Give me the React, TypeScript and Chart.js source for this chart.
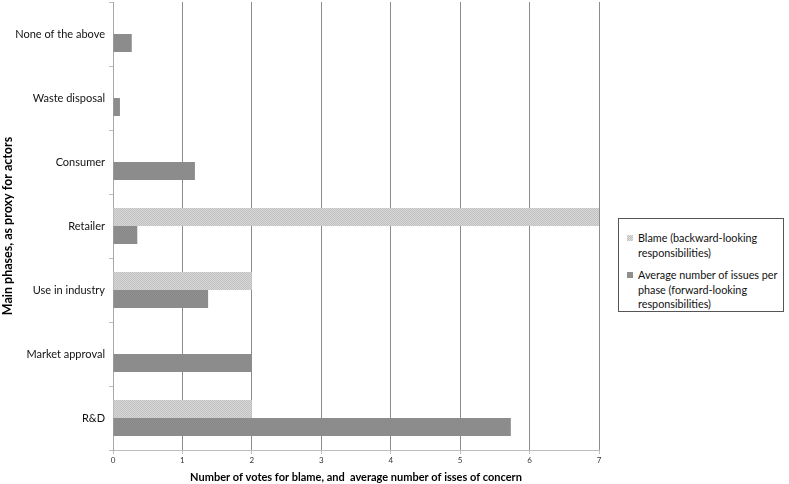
import React, { useEffect, useRef } from "react";
import { Chart, registerables } from "chart.js";

Chart.register(...registerables);

const categories = [
  "None of the above",
  "Waste disposal",
  "Consumer",
  "Retailer",
  "Use in industry",
  "Market approval",
  "R&D",
];
const blameValues = [0, 0, 0, 7, 2, 0, 2];
const averageIssues = [0.27, 0.1, 1.18, 0.35, 1.37, 2, 5.73];
const xTicks = [0, 1, 2, 3, 4, 5, 6, 7];
const blameLabel = "Blame (backward-looking responsibilities)";
const averageLabel = "Average number of issues per phase (forward-looking responsibilities)";
const blameLegendLines = ["Blame (backward-looking", "responsibilities)"];
const averageLegendLines = ["Average number of issues per", "phase (forward-looking", "responsibilities)"];
const xTitle = "Number of votes for blame, and  average number of isses of concern";
const yTitle = "Main phases, as proxy for actors";

const FONT = "Lato, 'Open Sans', sans-serif";

function makePattern(c1: string, c2: string) {
  const cv = document.createElement("canvas");
  cv.width = 2;
  cv.height = 2;
  const ctx = cv.getContext("2d")!;
  ctx.fillStyle = c1;
  ctx.fillRect(0, 0, 2, 2);
  ctx.fillStyle = c2;
  ctx.fillRect(0, 0, 1, 1);
  ctx.fillRect(1, 1, 1, 1);
  const main = document.createElement("canvas").getContext("2d")!;
  return main.createPattern(cv, "repeat") as CanvasPattern;
}

export default function App() {
  const ref = useRef<HTMLCanvasElement>(null);

  useEffect(() => {
    document.body.style.margin = "0";
    const blamePattern = makePattern("#d6d6d6", "#c2c2c2");
    const avgPattern = makePattern("#8e8e8e", "#8a8a8a");
    const chart = new Chart(ref.current!, {
      type: "bar",
      data: {
        labels: categories,
        datasets: [
          {
            label: blameLabel,
            data: blameValues,
            backgroundColor: blamePattern,
            borderWidth: 0,
            categoryPercentage: 0.5625,
            barPercentage: 1,
          },
          {
            label: averageLabel,
            data: averageIssues,
            backgroundColor: avgPattern,
            borderWidth: 0,
            categoryPercentage: 0.5625,
            barPercentage: 1,
          },
        ],
      },
      options: {
        indexAxis: "y",
        animation: false,
        responsive: false,
        maintainAspectRatio: false,
        layout: { padding: { left: 0, right: 190, top: 2, bottom: 0 } },
        plugins: {
          legend: { display: false },
          tooltip: { enabled: false },
        },
        scales: {
          x: {
            min: 0,
            max: 7,
            afterBuildTicks: (scale: any) => {
              scale.ticks = xTicks.map((v) => ({ value: v }));
            },
            afterFit: (scale: any) => {
              scale.height = 34;
            },
            grid: {
              color: "#8c8c8c",
              lineWidth: 1,
              drawTicks: true,
              tickLength: 4,
              tickColor: "#bdbdbd",
            },
            border: { display: true, color: "#bdbdbd", width: 1 },
            ticks: {
              color: "#333",
              font: { family: FONT, size: 8 },
              padding: 2,
              maxRotation: 0,
            },
            title: {
              display: true,
              text: xTitle,
              color: "#000",
              font: { family: FONT, size: 11, weight: "bold" },
              padding: { top: 4, bottom: 0 },
            },
          },
          y: {
            offset: true,
            afterFit: (scale: any) => {
              scale.width = 113;
              scale.paddingTop = 0;
              scale.paddingBottom = 0;
            },
            grid: {
              offset: true,
              drawOnChartArea: false,
              drawTicks: true,
              tickLength: 4,
              color: "#bdbdbd",
            },
            border: { display: true, color: "#a8a8a8", width: 1 },
            ticks: {
              color: "#111",
              font: { family: FONT, size: 11 },
              padding: 4,
            },
            title: {
              display: true,
              text: yTitle,
              color: "#000",
              font: { family: FONT, size: 12.5, weight: "bold" },
              padding: { top: 0, bottom: 0 },
            },
          },
        },
      },
    });
    return () => chart.destroy();
  }, []);

  const itemStyle: React.CSSProperties = {
    display: "flex",
    alignItems: "flex-start",
    fontFamily: FONT,
    fontSize: 10.8,
    lineHeight: "14.5px",
    color: "#111",
    whiteSpace: "nowrap",
  };
  const markerBase: React.CSSProperties = {
    width: 6,
    height: 6,
    marginTop: 4,
    marginRight: 5,
    flex: "0 0 auto",
  };

  const renderLines = (lines: string[]) =>
    lines.map((l, i) => (
      <React.Fragment key={i}>
        {l}
        {i < lines.length - 1 ? <br /> : null}
      </React.Fragment>
    ));

  return (
    <div style={{ position: "relative", width: 789, height: 484 }}>
      <canvas ref={ref} width={789} height={484} style={{ display: "block" }} />
      <div
        style={{
          position: "absolute",
          left: 618,
          top: 218,
          width: 166,
          height: 94,
          boxSizing: "border-box",
          border: "1px solid #555",
          background: "#fff",
          padding: "12px 0 0 8px",
          overflow: "visible",
        }}
      >
        <div style={itemStyle}>
          <span
            style={{
              ...markerBase,
              background:
                "repeating-conic-gradient(#c2c2c2 0% 25%, #dedede 0% 50%) 0 0 / 2px 2px",
            }}
          />
          <span>{renderLines(blameLegendLines)}</span>
        </div>
        <div style={{ ...itemStyle, marginTop: 8 }}>
          <span style={{ ...markerBase, background: "#8e8e8e" }} />
          <span>{renderLines(averageLegendLines)}</span>
        </div>
      </div>
    </div>
  );
}
